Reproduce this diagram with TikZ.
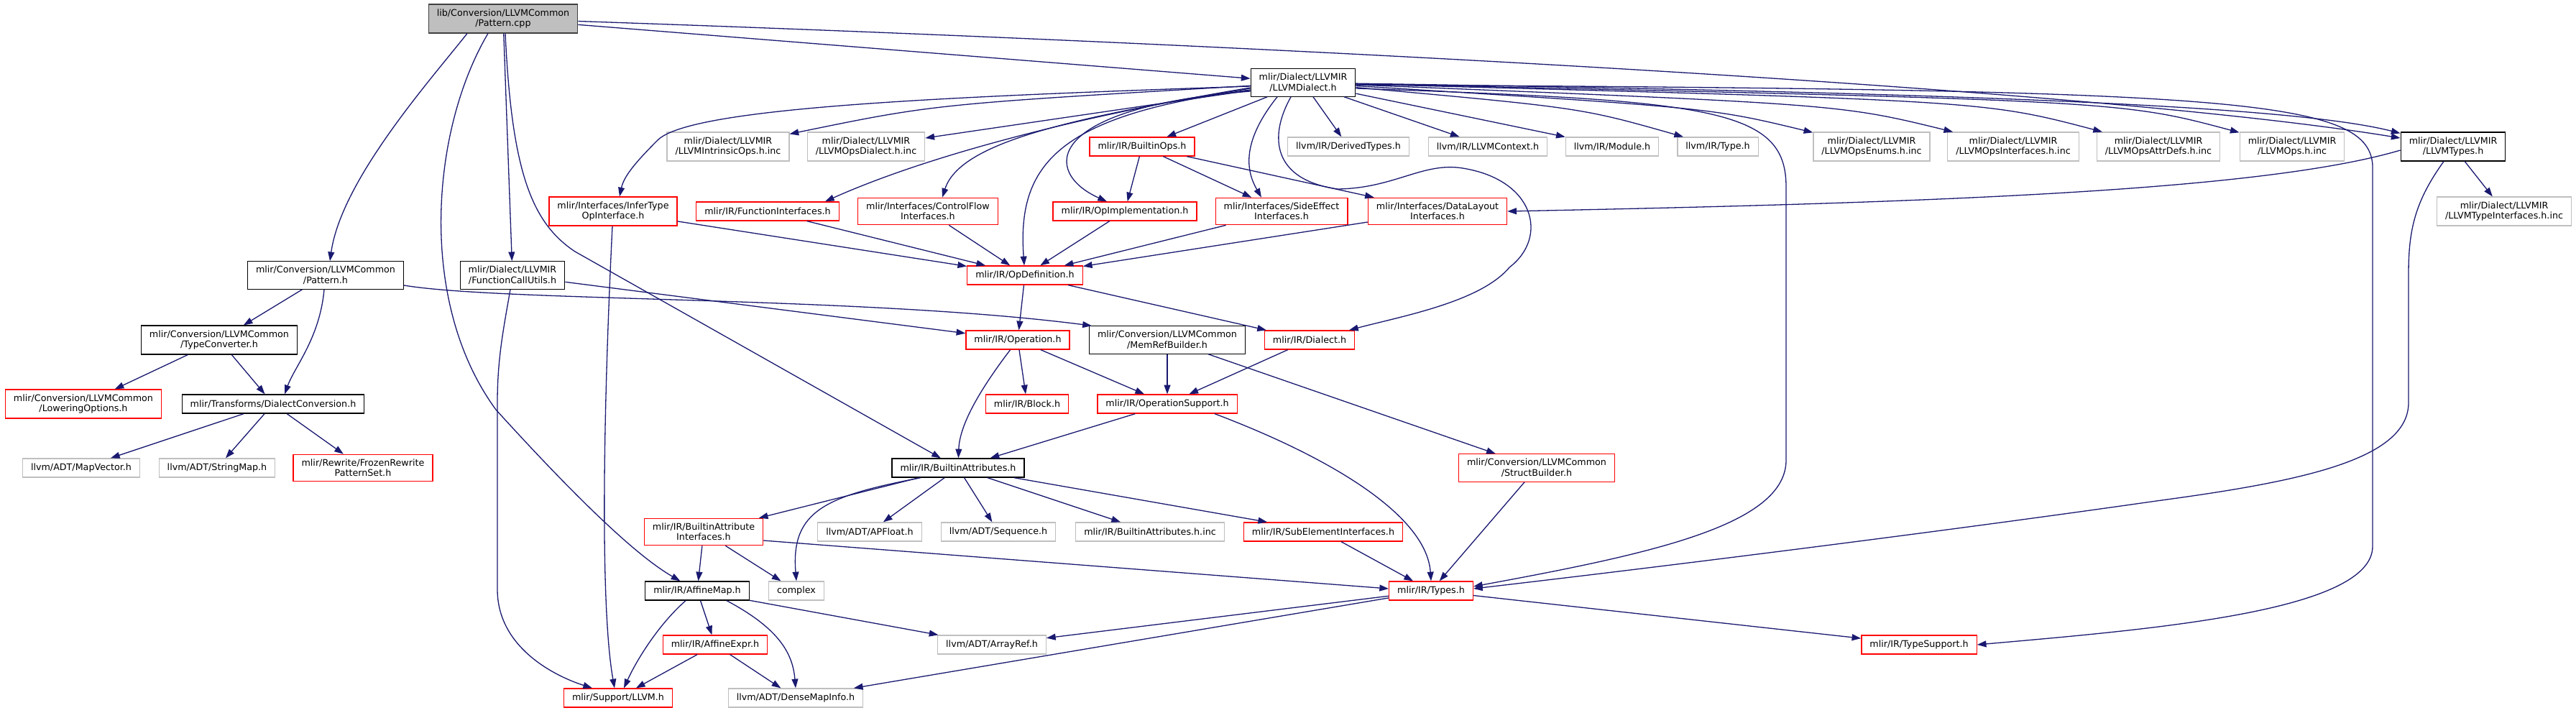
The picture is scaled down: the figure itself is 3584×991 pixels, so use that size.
\documentclass[tikz,border=0pt]{standalone}
\usepackage{fontspec}
\setmainfont{DejaVu Sans}
\usetikzlibrary{arrows.meta}
\definecolor{edgeblue}{HTML}{191970}
\definecolor{truncred}{HTML}{FF0000}
\definecolor{extgrey}{HTML}{BFBFBF}
\definecolor{rootfill}{HTML}{BFBFBF}
\definecolor{rootborder}{HTML}{404040}

\begin{document}
\begin{tikzpicture}[
  x=1pt, y=-1pt,
  font=\fontsize{12.7}{14.5}\selectfont,
  box/.style={draw,rectangle,align=center,inner xsep=11.5pt,inner ysep=6.5pt,minimum height=26pt,line width=1.3pt},
  rootbox/.style={box,draw=rootborder,fill=rootfill},
  docbox/.style={box,draw=black},
  redbox/.style={box,draw=truncred},
  extbox/.style={box,draw=extgrey},
  arrow/.style={-{Triangle[length=12.7pt,width=8.9pt]},draw=edgeblue,line width=1.3pt},
]
  \useasboundingbox (0,0) rectangle (3584,991);

  \node[rootbox] (root) at (700,26) {lib/Conversion/LLVMCommon\\/Pattern.cpp};
  \node[docbox] (dialect) at (1813,115) {mlir/Dialect/LLVMIR\\/LLVMDialect.h};

  \node[extbox] (intrinsic) at (1013,204) {mlir/Dialect/LLVMIR\\/LLVMIntrinsicOps.h.inc};
  \node[extbox] (opsdialect) at (1205,204) {mlir/Dialect/LLVMIR\\/LLVMOpsDialect.h.inc};
  \node[redbox] (builtinops) at (1589,204) {mlir/IR/BuiltinOps.h};
  \node[extbox] (derived) at (1876,204) {llvm/IR/DerivedTypes.h};
  \node[extbox] (context) at (2070,204) {llvm/IR/LLVMContext.h};
  \node[extbox] (module) at (2243,204) {llvm/IR/Module.h};
  \node[extbox] (irtype) at (2390,204) {llvm/IR/Type.h};
  \node[extbox] (enums) at (2604,204) {mlir/Dialect/LLVMIR\\/LLVMOpsEnums.h.inc};
  \node[extbox] (opsiface) at (2801,204) {mlir/Dialect/LLVMIR\\/LLVMOpsInterfaces.h.inc};
  \node[extbox] (attrdefs) at (3003,204) {mlir/Dialect/LLVMIR\\/LLVMOpsAttrDefs.h.inc};
  \node[extbox] (opsinc) at (3189,204) {mlir/Dialect/LLVMIR\\/LLVMOps.h.inc};
  \node[docbox] (llvmtypes) at (3413,204) {mlir/Dialect/LLVMIR\\/LLVMTypes.h};

  \node[redbox] (infertype) at (853,294) {mlir/Interfaces/InferType\\OpInterface.h};
  \node[redbox] (funciface) at (1068,294) {mlir/IR/FunctionInterfaces.h};
  \node[redbox] (controlflow) at (1291,294) {mlir/Interfaces/ControlFlow\\Interfaces.h};
  \node[redbox] (opimpl) at (1565,294) {mlir/IR/OpImplementation.h};
  \node[redbox] (sideeffect) at (1783,294) {mlir/Interfaces/SideEffect\\Interfaces.h};
  \node[redbox] (datalayout) at (2000,294) {mlir/Interfaces/DataLayout\\Interfaces.h};
  \node[extbox] (typeiface) at (3484,294) {mlir/Dialect/LLVMIR\\/LLVMTypeInterfaces.h.inc};

  \node[docbox] (patternh) at (453,383) {mlir/Conversion/LLVMCommon\\/Pattern.h};
  \node[docbox] (callutils) at (713,383) {mlir/Dialect/LLVMIR\\/FunctionCallUtils.h};
  \node[redbox] (opdef) at (1426,383) {mlir/IR/OpDefinition.h};

  \node[docbox] (typeconv) at (305,473) {mlir/Conversion/LLVMCommon\\/TypeConverter.h};
  \node[redbox] (operation) at (1416,473) {mlir/IR/Operation.h};
  \node[docbox] (memref) at (1624,473) {mlir/Conversion/LLVMCommon\\/MemRefBuilder.h};
  \node[redbox] (irdialect) at (1822,473) {mlir/IR/Dialect.h};

  \node[redbox] (lowering) at (116,562) {mlir/Conversion/LLVMCommon\\/LoweringOptions.h};
  \node[docbox] (dialconv) at (380,562) {mlir/Transforms/DialectConversion.h};
  \node[redbox] (block) at (1429,562) {mlir/IR/Block.h};
  \node[redbox] (opsupport) at (1624,562) {mlir/IR/OperationSupport.h};

  \node[extbox] (mapvector) at (113,651) {llvm/ADT/MapVector.h};
  \node[extbox] (stringmap) at (302,651) {llvm/ADT/StringMap.h};
  \node[redbox] (frozen) at (505,651) {mlir/Rewrite/FrozenRewrite\\PatternSet.h};
  \node[docbox] (battrs) at (1333,651) {mlir/IR/BuiltinAttributes.h};
  \node[redbox] (structb) at (2138,651) {mlir/Conversion/LLVMCommon\\/StructBuilder.h};

  \node[redbox] (baiface) at (979,740) {mlir/IR/BuiltinAttribute\\Interfaces.h};
  \node[extbox] (apfloat) at (1210,740) {llvm/ADT/APFloat.h};
  \node[extbox] (sequence) at (1389,740) {llvm/ADT/Sequence.h};
  \node[extbox] (battrsinc) at (1600,740) {mlir/IR/BuiltinAttributes.h.inc};
  \node[redbox] (subelem) at (1841,740) {mlir/IR/SubElementInterfaces.h};

  \node[docbox] (affinemap) at (970,822) {mlir/IR/AffineMap.h};
  \node[extbox] (complex) at (1108,822) {complex};
  \node[redbox] (types) at (1991,822) {mlir/IR/Types.h};

  \node[redbox] (affineexpr) at (995,897) {mlir/IR/AffineExpr.h};
  \node[extbox] (arrayref) at (1380,897) {llvm/ADT/ArrayRef.h};
  \node[redbox] (typesupport) at (2670,897) {mlir/IR/TypeSupport.h};

  \node[redbox] (llvmh) at (860,971) {mlir/Support/LLVM.h};
  \node[extbox] (densemap) at (1107,971) {llvm/ADT/DenseMapInfo.h};

  \draw[arrow] (root) -- (dialect);
  \draw[arrow] (root) .. controls (1700,60) and (2900,120) .. (llvmtypes);
  \draw[arrow] ([xshift=-50pt]root.south) .. controls (600,110) and (475,250) .. ([xshift=6pt]patternh.north);
  \draw[arrow] (root) -- (callutils);
  \draw[arrow] ([xshift=-21pt]root.south) .. controls (600,180) and (580,420) .. (690,570) .. controls (790,680) and (880,770) .. (affinemap);
  \draw[arrow] ([xshift=3pt]root.south) .. controls (712,240) and (740,310) .. (800,350) -- (battrs);

  \draw[arrow] (dialect) .. controls (1300,145) .. (intrinsic);
  \draw[arrow] (dialect) -- (opsdialect);
  \draw[arrow] ([yshift=-5pt]dialect.west) .. controls (1300,135) and (960,150) .. (915,195) .. controls (885,225) and (868,245) .. ([xshift=9pt]infertype.north);
  \draw[arrow] ([yshift=-7pt]dialect.west) .. controls (1450,170) and (1260,230) .. ([xshift=80pt]funciface.north);
  \draw[arrow] ([yshift=-8pt]dialect.west) .. controls (1480,165) and (1335,200) .. ([xshift=20pt]controlflow.north);
  \draw[arrow] ([yshift=-10pt]dialect.west) .. controls (1470,160) and (1415,230) .. (opdef);
  \draw[arrow] ([yshift=-12pt]dialect.west) .. controls (1450,150) and (1450,240) .. ([xshift=-25pt]opimpl.north);
  \draw[arrow] (dialect) -- (builtinops);
  \draw[arrow] ([xshift=-36pt]dialect.south) .. controls (1725,200) and (1735,240) .. ([xshift=-28pt]sideeffect.north);
  \draw[arrow] ([xshift=-17pt]dialect.south) .. controls (1765,190) and (1770,250) .. (1861,263) .. controls (1940,262) and (1980,225) .. (2035,234) .. controls (2135,250) and (2155,330) .. (2100,372) .. controls (2060,420) and (1950,440) .. ([xshift=55pt]irdialect.north);
  \draw[arrow] (dialect) -- (derived);
  \draw[arrow] (dialect) -- (context);
  \draw[arrow] (dialect) -- (module);
  \draw[arrow] (dialect) .. controls (2200,150) .. (irtype);
  \draw[arrow] (dialect) .. controls (2380,150) .. (enums);
  \draw[arrow] (dialect) .. controls (2560,145) .. (opsiface);
  \draw[arrow] (dialect) .. controls (2760,140) .. (attrdefs);
  \draw[arrow] (dialect) .. controls (2950,140) .. (opsinc);
  \draw[arrow] (dialect) .. controls (2800,130) and (3200,150) .. (llvmtypes);
  \draw[arrow] ([yshift=-8pt]dialect.east) .. controls (2380,140) and (2485,150) .. (2485,260) -- (2485,640) .. controls (2485,730) and (2300,770) .. ([yshift=6pt]types.east);
  \draw[arrow] ([yshift=-3pt]dialect.east) .. controls (3100,125) and (3295,135) .. (3301,230) -- (3301,760) .. controls (3301,850) and (3000,875) .. (typesupport.east);

  \draw[arrow] (llvmtypes) -- (typeiface);
  \draw[arrow] ([yshift=-5pt]llvmtypes.west) .. controls (3150,265) and (2700,282) .. (datalayout.east);
  \draw[arrow] ([xshift=-13pt]llvmtypes.south) .. controls (3360,280) and (3351,320) .. (3351,380) -- (3351,560) .. controls (3351,640) and (3200,670) .. (3000,697) .. controls (2700,740) and (2300,790) .. ([yshift=3pt]types.east);

  \draw[arrow] (builtinops) -- (opimpl);
  \draw[arrow] (builtinops) -- (sideeffect);
  \draw[arrow] (builtinops) -- (datalayout);

  \draw[arrow] (infertype) -- (opdef);
  \draw[arrow] (infertype) .. controls (838,600) and (836,850) .. ([xshift=-5pt]llvmh.north);
  \draw[arrow] (funciface) -- (opdef);
  \draw[arrow] (controlflow) -- (opdef);
  \draw[arrow] (opimpl) -- (opdef);
  \draw[arrow] (sideeffect) -- (opdef);
  \draw[arrow] (datalayout) -- (opdef);

  \draw[arrow] (patternh) -- (typeconv);
  \draw[arrow] ([xshift=-2pt]patternh.south) .. controls (445,470) and (410,510) .. ([xshift=16pt]dialconv.north);
  \draw[arrow] ([yshift=-14pt]patternh.east) .. controls (700,420) and (1200,412) .. ([xshift=4pt]memref.north west);
  \draw[arrow] (callutils) -- (operation);
  \draw[arrow] ([xshift=-3pt]callutils.south) .. controls (700,460) and (692,500) .. (692,560) -- (692,820) .. controls (692,900) and (770,940) .. ([xshift=-36pt]llvmh.north);

  \draw[arrow] (typeconv) -- (lowering);
  \draw[arrow] (typeconv) -- (dialconv);
  \draw[arrow] (dialconv) -- (mapvector);
  \draw[arrow] (dialconv) -- (stringmap);
  \draw[arrow] (dialconv) -- (frozen);

  \draw[arrow] (opdef) -- (operation);
  \draw[arrow] (opdef) -- (irdialect);
  \draw[arrow] (operation) -- (block);
  \draw[arrow] (operation) -- (opsupport);
  \draw[arrow] (operation) .. controls (1365,540) and (1335,590) .. (battrs);
  \draw[arrow] (memref) -- (opsupport);
  \draw[arrow] (memref) -- (structb);
  \draw[arrow] (irdialect) -- (opsupport);
  \draw[arrow] (opsupport) -- (battrs);
  \draw[arrow] ([xshift=66pt]opsupport.south) .. controls (1860,640) and (1985,720) .. (types.north);
  \draw[arrow] (structb) -- (types);

  \draw[arrow] (battrs) -- (baiface);
  \draw[arrow] ([xshift=-52pt]battrs.south) .. controls (1150,690) and (1100,710) .. (complex.north);
  \draw[arrow] (battrs) -- (apfloat);
  \draw[arrow] (battrs) -- (sequence);
  \draw[arrow] (battrs) -- (battrsinc);
  \draw[arrow] (battrs) -- (subelem);
  \draw[arrow] (subelem) -- (types);

  \draw[arrow] (baiface) -- (affinemap);
  \draw[arrow] (baiface) -- (complex);
  \draw[arrow] ([yshift=-12pt]baiface.east) -- ([yshift=3pt]types.west);

  \draw[arrow] (affinemap) -- (affineexpr);
  \draw[arrow] ([xshift=-16pt]affinemap.south) .. controls (915,870) and (885,920) .. ([xshift=8pt]llvmh.north);
  \draw[arrow] ([xshift=41pt]affinemap.south) .. controls (1085,875) and (1103,910) .. (densemap.north);
  \draw[arrow] (affinemap) -- (arrayref);
  \draw[arrow] (affineexpr) -- (llvmh);
  \draw[arrow] (affineexpr) -- (densemap);

  \draw[arrow] (types) -- (arrayref);
  \draw[arrow] (types) -- (densemap);
  \draw[arrow] (types) -- (typesupport);
\end{tikzpicture}
\end{document}
